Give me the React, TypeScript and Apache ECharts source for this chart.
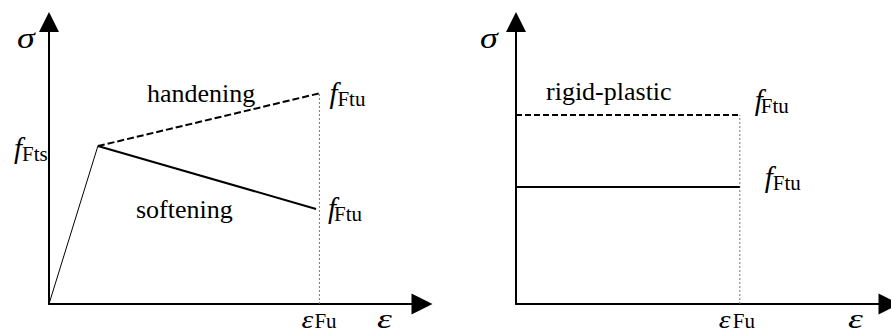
import React, { useEffect, useRef } from "react";
import * as echarts from "echarts";

// Axis extents (arbitrary units, both panels share the same scale)
const X_MAX = 100;
const Y_MAX = 100;

// Left panel: elastic branch + post-cracking branches
const kneePoint = [13.1, 56.0];
const elasticLine = [[0, 0], kneePoint];
const hardeningLine = [kneePoint, [72.5, 74.7]];
const softeningLine = [kneePoint, [71.6, 33.7]];
const leftEpsFu = 72.5;
const leftGuide = [[leftEpsFu, 0], [leftEpsFu, 74.7]];

// Right panel: rigid-plastic levels
const rightEpsFu = 60;
const rigidUpper = [[0, 67.0], [rightEpsFu, 67.0]];
const rigidLower = [[0, 41.5], [rightEpsFu, 41.5]];
const rightGuide = [[rightEpsFu, 0], [rightEpsFu, 67.0]];

// Texts
const regionLabels = ["handening", "softening", "rigid-plastic"];
const axisSymbols = ["σ", "ε"];
const fSymbol = "f";
const subFts = "Fts";
const subFtu = "Ftu";
const subFu = "Fu";

const FONT = "Liberation Serif, serif";

function txt(text: string, x: number, baseline: number, size: number, italic: boolean, sx = 1) {
  return {
    type: "text",
    x,
    y: baseline - 0.34 * size,
    scaleX: sx,
    silent: true,
    style: {
      text,
      font: `${italic ? "italic " : ""}${size}px ${FONT}`,
      fontFamily: FONT,
      fontSize: size,
      fontStyle: italic ? "italic" : "normal",
      fill: "#000",
      align: "left",
      verticalAlign: "middle",
    },
  };
}

function axisSet(gridIndex: number) {
  const common = {
    type: "value",
    gridIndex,
    min: 0,
    axisTick: { show: false },
    axisLabel: { show: false },
    splitLine: { show: false },
    axisLine: {
      show: true,
      onZero: false,
      symbol: ["none", "triangle"],
      lineStyle: { color: "#000", width: 2 },
    },
  };
  return {
    x: { ...common, max: X_MAX, axisLine: { ...common.axisLine, symbolSize: [21, 21] } },
    y: { ...common, max: Y_MAX, axisLine: { ...common.axisLine, symbolSize: [20, 20] } },
  };
}

function lineSeries(data: number[][], idx: number, width: number, type: any, color = "#000") {
  return {
    type: "line",
    xAxisIndex: idx,
    yAxisIndex: idx,
    data,
    symbol: "none",
    silent: true,
    lineStyle: { color, width, type },
    z: 3,
  };
}

export default function App() {
  const ref = useRef<HTMLDivElement>(null);
  useEffect(() => {
    if (!ref.current) return;
    const chart = echarts.init(ref.current, undefined, { renderer: "svg" });
    const a0 = axisSet(0);
    const a1 = axisSet(1);
    chart.setOption({
      animation: false,
      backgroundColor: "#fff",
      grid: [
        { left: 49, top: 22, width: 373, height: 282 },
        { left: 516, top: 22, width: 373, height: 282 },
      ],
      xAxis: [a0.x, a1.x],
      yAxis: [a0.y, a1.y],
      series: [
        lineSeries(leftGuide, 0, 1, [2, 2], "#777"),
        lineSeries(elasticLine, 0, 1, "solid"),
        lineSeries(hardeningLine, 0, 2, [7, 3]),
        lineSeries(softeningLine, 0, 2, "solid"),
        lineSeries(rightGuide, 1, 1, [2, 2], "#777"),
        lineSeries(rigidUpper, 1, 2, [6, 3]),
        lineSeries(rigidLower, 1, 2, "solid"),
      ],
    });

    const px = (g: number, pt: number[]) => chart.convertToPixel({ gridIndex: g } as any, pt) as number[];
    const o0 = px(0, [0, 0]);
    const o1 = px(1, [0, 0]);
    const end0 = px(0, [X_MAX, 0]);
    const end1 = px(1, [X_MAX, 0]);
    const knee = px(0, kneePoint);
    const hardEnd = px(0, hardeningLine[1]);
    const softEnd = px(0, softeningLine[1]);
    const upEnd = px(1, rigidUpper[1]);
    const lowEnd = px(1, rigidLower[1]);
    const eps0 = px(0, [leftEpsFu, 0]);
    const eps1 = px(1, [rightEpsFu, 0]);

    const F = 29, S = 21, T = 26;
    const texts: any[] = [
      // axis symbols
      txt(axisSymbols[0], o0[0] - 32, 48, 30, true, 1.2),
      txt(axisSymbols[0], o1[0] - 36, 48, 30, true, 1.2),
      txt(axisSymbols[1], end0[0] - 45, o0[1] + 24, 27, true, 1.4),
      txt(axisSymbols[1], end1[0] - 41, o1[1] + 24, 27, true, 1.4),
      // eps_Fu
      txt(axisSymbols[1], eps0[0] - 18, o0[1] + 24, T, true, 1.15),
      txt(subFu, eps0[0] - 5, o0[1] + 24, S, false),
      txt(axisSymbols[1], eps1[0] - 21, o1[1] + 24, T, true, 1.15),
      txt(subFu, eps1[0] - 7, o1[1] + 24, S, false),
      // f_Fts
      txt(fSymbol, o0[0] - 35, knee[1] + 12, F, true),
      txt(subFts, o0[0] - 27, knee[1] + 15, S, false),
      // f_Ftu labels
      txt(fSymbol, hardEnd[0] + 10, hardEnd[1] + 10, F, true),
      txt(subFtu, hardEnd[0] + 18, hardEnd[1] + 13, S, false),
      txt(fSymbol, softEnd[0] + 12, softEnd[1] + 9, F, true),
      txt(subFtu, softEnd[0] + 18, softEnd[1] + 12, S, false),
      txt(fSymbol, upEnd[0] + 15, upEnd[1] - 5, F, true),
      txt(subFtu, upEnd[0] + 21, upEnd[1] - 2, S, false),
      txt(fSymbol, lowEnd[0] + 25, lowEnd[1], F, true),
      txt(subFtu, lowEnd[0] + 33, lowEnd[1] + 3, S, false),
      // region names
      txt(regionLabels[0], 147, 102, T, false),
      txt(regionLabels[1], 136, 218, T, false),
      txt(regionLabels[2], 546, 100, T, false),
    ];
    chart.setOption({ graphic: { elements: texts } });
    return () => chart.dispose();
  }, []);
  return (
    <div
      ref={ref}
      style={{ position: "fixed", left: 0, top: 0, width: 891, height: 333, background: "#fff" }}
    />
  );
}
